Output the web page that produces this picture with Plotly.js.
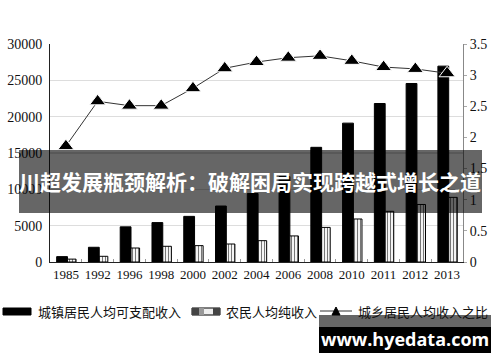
<!DOCTYPE html>
<html>
<head>
<meta charset="utf-8">
<script src="https://cdn.plot.ly/plotly-3.0.1.min.js"></script>
<style>html,body{margin:0;padding:0;background:#fff;}#chart{width:500px;height:362px;}</style>
</head>
<body>
<div id="chart"></div>
<script>
const years = ["1985","1992","1996","1998","2000","2002","2004","2006","2008","2010","2011","2012","2013"];
const urbanIncome = [739, 2027, 4839, 5425, 6280, 7703, 9422, 11759, 15781, 19109, 21810, 24565, 26955];
const ruralIncome = [398, 784, 1926, 2162, 2253, 2476, 2936, 3587, 4761, 5919, 6977, 7917, 8896];
const incomeRatio = [1.86, 2.58, 2.51, 2.51, 2.79, 3.11, 3.21, 3.28, 3.31, 3.23, 3.13, 3.10, 3.03];
const seriesNames = ["城镇居民人均可支配收入", "农民人均纯收入", "城乡居民人均收入之比"];
const bannerText = "川超发展瓶颈解析：破解困局实现跨越式增长之道";
const watermark = "www.hyedata.com";

const L = 50, R = 463, T = 44, B = 262;
const px = v => (v - L) / (R - L);
const py = v => (B - v) / (B - T);

const serif = "Liberation Serif, Times New Roman, serif";
const cjk = "Noto Sans CJK SC, sans-serif";

const traces = [
  {type: "bar", x: years, y: urbanIncome, name: seriesNames[0], offset: -0.29, width: 0.34,
   marker: {color: "#000", line: {color: "#000", width: 1}}, showlegend: false},
  {type: "bar", x: years, y: ruralIncome, name: seriesNames[1], offset: 0.05, width: 0.27,
   marker: {color: "#f2f2f2", line: {color: "#000", width: 1},
            pattern: {shape: "|", fgcolor: "#777", bgcolor: "#f4f4f4", size: 3, solidity: 0.35}}, showlegend: false},
  {type: "scatter", mode: "lines+markers", x: years, y: incomeRatio, name: seriesNames[2], yaxis: "y2",
   line: {color: "#333", width: 1},
   marker: {symbol: "triangle-up", size: 14, color: "#000", line: {color: "#fff", width: 1}}, showlegend: false}
];

const shapes = [
  {type: "rect", xref: "paper", yref: "paper", x0: px(3), x1: px(31), y0: py(308), y1: py(315), fillcolor: "#000", line: {color: "#000", width: 1}},
  {type: "rect", xref: "paper", yref: "paper", x0: px(192), x1: px(220), y0: py(308), y1: py(315), fillcolor: "#eee", line: {color: "#000", width: 1}},
  {type: "rect", xref: "paper", yref: "paper", x0: px(192), x1: px(199), y0: py(308), y1: py(315), fillcolor: "#444", line: {width: 0}},
  {type: "rect", xref: "paper", yref: "paper", x0: px(199), x1: px(204), y0: py(308), y1: py(315), fillcolor: "#999", line: {width: 0}},
  {type: "rect", xref: "paper", yref: "paper", x0: px(213), x1: px(220), y0: py(308), y1: py(315), fillcolor: "#444", line: {width: 0}},
  {type: "line", xref: "paper", yref: "paper", x0: px(320), x1: px(352), y0: py(311), y1: py(311), line: {color: "#333", width: 1}},
  {type: "path", xref: "paper", yref: "paper",
   path: "M " + px(332) + "," + py(315) + " L " + px(340) + "," + py(315) + " L " + px(336) + "," + py(307) + " Z",
   fillcolor: "#000", line: {color: "#000", width: 1}},
  {type: "rect", xref: "paper", yref: "paper", layer: "above", x0: px(19), x1: px(482), y0: py(213), y1: py(150),
   fillcolor: "rgba(0,0,0,0.6)", line: {width: 0}},
  {type: "rect", xref: "paper", yref: "paper", layer: "above", x0: px(319), x1: px(491), y0: py(327), y1: py(315),
   fillcolor: "rgba(0,0,0,0.6)", line: {width: 0}},
  {type: "rect", xref: "paper", yref: "paper", layer: "above", x0: px(319), x1: px(491), y0: py(353), y1: py(327),
   fillcolor: "#000", line: {width: 0}}
];

const annotations = [
  {xref: "paper", yref: "paper", x: px(36), y: py(311), xanchor: "left", yanchor: "middle", showarrow: false,
   text: seriesNames[0], font: {family: cjk, size: 13, color: "#111"}},
  {xref: "paper", yref: "paper", x: px(224), y: py(311), xanchor: "left", yanchor: "middle", showarrow: false,
   text: seriesNames[1], font: {family: cjk, size: 13, color: "#111"}},
  {xref: "paper", yref: "paper", x: px(356), y: py(311), xanchor: "left", yanchor: "middle", showarrow: false,
   text: seriesNames[2], font: {family: cjk, size: 13, color: "#111"}},
  {xref: "paper", yref: "paper", x: px(250), y: py(181), xanchor: "center", yanchor: "middle", showarrow: false,
   text: "<b>" + bannerText + "</b>", font: {family: cjk, size: 21, color: "#fff"}},
  {xref: "paper", yref: "paper", x: px(405), y: py(339), xanchor: "center", yanchor: "middle", showarrow: false,
   text: "<b>" + watermark + "</b>", font: {family: "Open Sans, DejaVu Sans, sans-serif", size: 18, color: "#fff"}}
];

const layout = {
  width: 500, height: 362,
  margin: {l: L, r: 500 - R, t: T, b: 362 - B, pad: 0},
  paper_bgcolor: "#fff", plot_bgcolor: "#fff",
  barmode: "overlay",
  showlegend: false,
  xaxis: {type: "category", range: [-0.5, 12.5], showline: true, linecolor: "#222", linewidth: 1,
          ticks: "inside", tickson: "boundaries", ticklen: 3, tickcolor: "#999", tickangle: 0,
          showgrid: false, tickfont: {family: serif, size: 13, color: "#111"}, fixedrange: true},
  yaxis: {range: [0, 30000], dtick: 5000, tickformat: "d", showline: true, linecolor: "#222", linewidth: 1,
          showgrid: true, gridcolor: "#ddd", gridwidth: 1.5, zeroline: false, ticks: "",
          tickfont: {family: serif, size: 14, color: "#111"}, ticklabelstandoff: 4},
  yaxis2: {range: [0, 3.5], dtick: 0.5, overlaying: "y", side: "right", showline: true, linecolor: "#888",
           linewidth: 1, showgrid: false, zeroline: false, ticks: "outside", ticklen: 3, tickcolor: "#aaa",
           tickfont: {family: serif, size: 14, color: "#111"}},
  shapes: shapes,
  annotations: annotations
};

Plotly.newPlot("chart", traces, layout, {staticPlot: true, displayModeBar: false});
</script>
</body>
</html>
